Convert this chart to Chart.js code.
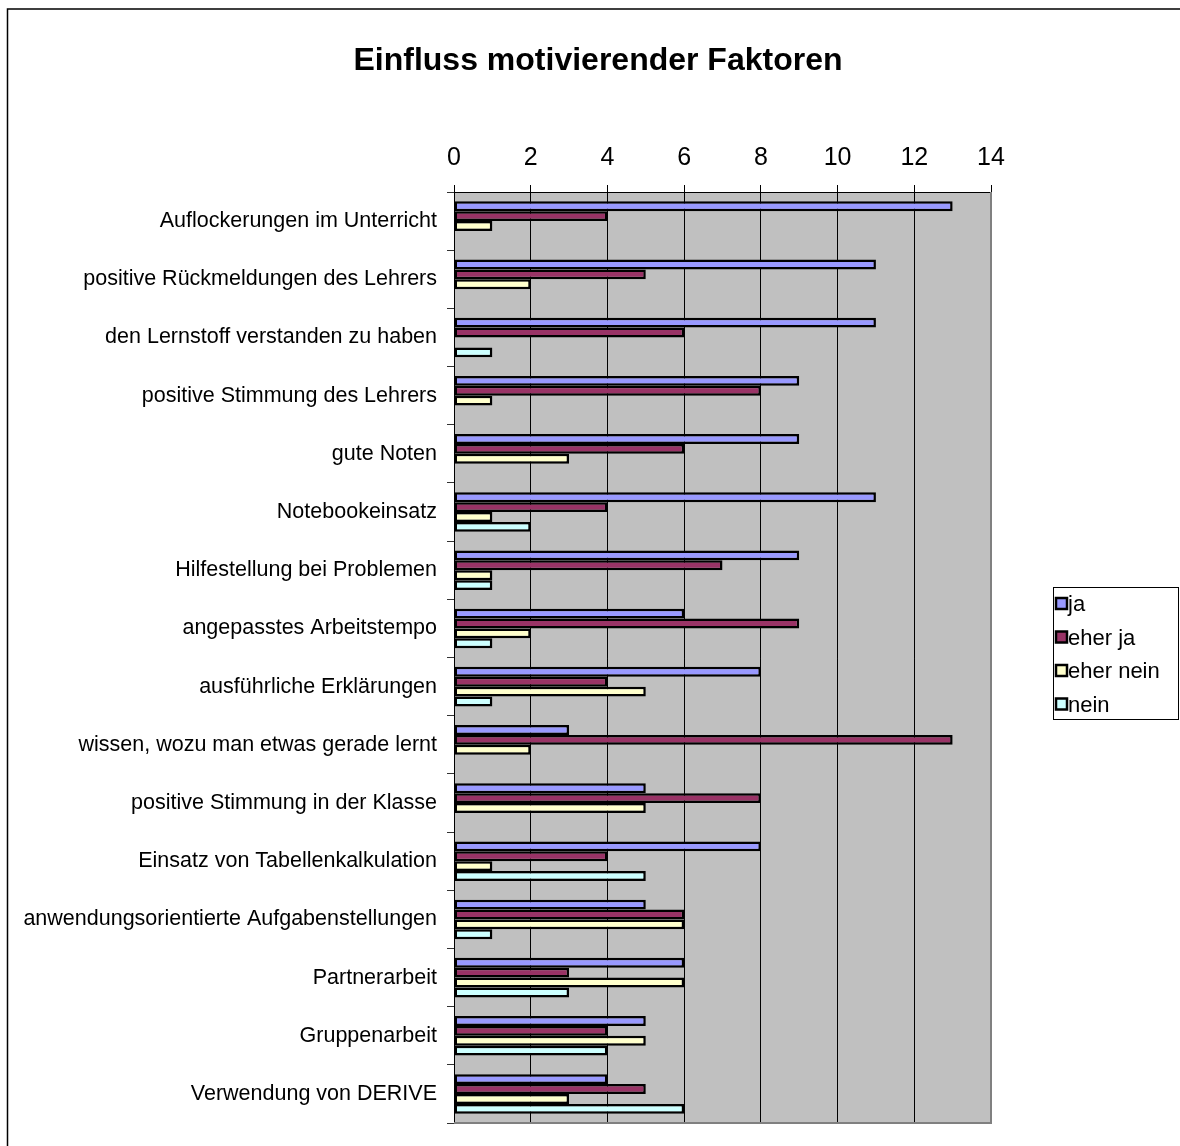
<!DOCTYPE html>
<html lang="de">

<head>
    <meta charset="UTF-8">
    <title>Einfluss motivierender Faktoren</title>
    <script src="https://cdn.jsdelivr.net/npm/chart.js"></script>
    <style>
        body {
            margin: 0;
            background: #fff;
        }

        #chartContainer {
            width: 1180px;
            height: 1146px;
        }
    </style>
</head>

<body>
    <div id="chartContainer">
        <canvas id="factorChart" width="1180" height="1146"></canvas>
    </div>

    <script>
        // data
        const categories = [
            'Auflockerungen im Unterricht',
            'positive Rückmeldungen des Lehrers',
            'den Lernstoff verstanden zu haben',
            'positive Stimmung des Lehrers',
            'gute Noten',
            'Notebookeinsatz',
            'Hilfestellung bei Problemen',
            'angepasstes Arbeitstempo',
            'ausführliche Erklärungen',
            'wissen, wozu man etwas gerade lernt',
            'positive Stimmung in der Klasse',
            'Einsatz von Tabellenkalkulation',
            'anwendungsorientierte Aufgabenstellungen',
            'Partnerarbeit',
            'Gruppenarbeit',
            'Verwendung von DERIVE'
        ];
        const ja       = [13, 11, 11, 9, 9, 11, 9, 6, 8, 3, 5, 8, 5, 6, 5, 4];
        const eherJa   = [4, 5, 6, 8, 6, 4, 7, 9, 4, 13, 8, 4, 6, 3, 4, 5];
        const eherNein = [1, 2, 0, 1, 3, 1, 1, 2, 5, 2, 5, 1, 6, 6, 5, 3];
        const nein     = [0, 0, 1, 0, 0, 2, 1, 1, 1, 0, 0, 5, 1, 3, 4, 6];
        const seriesNames = ['ja', 'eher ja', 'eher nein', 'nein'];
        const chartTitle = 'Einfluss motivierender Faktoren';
        const xMin = 0, xMax = 14, xStep = 2;

        const FONT = '"Liberation Sans", Arial, sans-serif';

        // grey plot area + outer frame + title
        const plotArea = {
            id: 'plotArea',
            beforeDraw(chart) {
                const { ctx, chartArea: a } = chart;
                ctx.save();
                ctx.fillStyle = '#fff';
                ctx.fillRect(0, 0, chart.width, chart.height);
                ctx.strokeStyle = '#000';
                ctx.lineWidth = 1.5;
                ctx.beginPath();
                ctx.moveTo(7.5, chart.height);
                ctx.lineTo(7.5, 9);
                ctx.lineTo(chart.width, 9);
                ctx.stroke();
                ctx.fillStyle = '#c0c0c0';
                ctx.fillRect(a.left, a.top, a.right - a.left, a.bottom - a.top);
                // title is centred on the whole frame, not only the plot
                ctx.fillStyle = '#000';
                ctx.font = 'bold 32px ' + FONT;
                ctx.textAlign = 'center';
                ctx.textBaseline = 'middle';
                ctx.fillText(chartTitle, 598, 61);
                ctx.restore();
            },
            beforeDatasetsDraw(chart) {
                const { ctx, chartArea: a } = chart;
                ctx.save();
                ctx.strokeStyle = '#808080';
                ctx.lineWidth = 2;
                ctx.beginPath();
                ctx.moveTo(a.left, a.bottom);
                ctx.lineTo(a.right, a.bottom);
                ctx.lineTo(a.right, a.top);
                ctx.stroke();
                ctx.restore();
            }
        };

        // boxed legend on the right, like the original
        const boxLegend = {
            id: 'boxLegend',
            afterDraw(chart) {
                const { ctx } = chart;
                const x = 1053, y = 587, w = 125, h = 132;
                ctx.save();
                ctx.strokeStyle = '#000';
                ctx.lineWidth = 1;
                ctx.strokeRect(x + 0.5, y + 0.5, w, h);
                ctx.font = '22px ' + FONT;
                ctx.textBaseline = 'middle';
                ctx.textAlign = 'left';
                chart.data.datasets.forEach((ds, i) => {
                    const cy = y + 17 + i * 33.5;
                    ctx.fillStyle = ds.backgroundColor;
                    ctx.fillRect(x + 3, cy - 6, 11, 11);
                    ctx.lineWidth = 2.5;
                    ctx.strokeRect(x + 3, cy - 6, 11, 11);
                    ctx.fillStyle = '#000';
                    ctx.fillText(ds.label, x + 15, cy + 1);
                });
                ctx.restore();
            }
        };

        const colors = ['#9999ff', '#993366', '#ffffcc', '#ccffff'];
        const values = [ja, eherJa, eherNein, nein];

        const ctx = document.getElementById('factorChart').getContext('2d');
        const factorChart = new Chart(ctx, {
            type: 'bar',
            data: {
                labels: categories,
                datasets: values.map((v, i) => ({
                    label: seriesNames[i],
                    data: v,
                    backgroundColor: colors[i],
                    borderColor: '#000',
                    borderWidth: 2.5,
                    borderSkipped: false,
                    barPercentage: 1,
                    categoryPercentage: 0.68
                }))
            },
            options: {
                indexAxis: 'y',
                responsive: false,
                animation: false,
                layout: {
                    padding: { left: 8, top: 89, right: 189, bottom: 14 }
                },
                scales: {
                    x: {
                        position: 'top',
                        min: xMin,
                        max: xMax,
                        afterFit: (scale) => { scale.height = 103; },
                        border: { display: true, color: '#000', width: 1 },
                        grid: {
                            color: (c) => (c.tick && c.tick.value === xMax) ? '#808080' : '#000',
                            tickColor: '#000',
                            tickLength: 7,
                            lineWidth: 1
                        },
                        ticks: {
                            stepSize: xStep,
                            padding: 12,
                            color: '#000',
                            font: { family: FONT, size: 25 }
                        }
                    },
                    y: {
                        afterFit: (scale) => { scale.width = 446; },
                        border: { display: true, color: '#000', width: 1 },
                        grid: {
                            offset: true,
                            drawOnChartArea: false,
                            tickColor: '#333',
                            tickLength: 7
                        },
                        ticks: {
                            padding: 10,
                            color: '#000',
                            font: { family: FONT, size: 21.5 }
                        }
                    }
                },
                plugins: {
                    legend: { display: false },
                    tooltip: { enabled: false },
                    title: { display: false }
                }
            },
            plugins: [plotArea, boxLegend]
        });
    </script>
</body>

</html>
